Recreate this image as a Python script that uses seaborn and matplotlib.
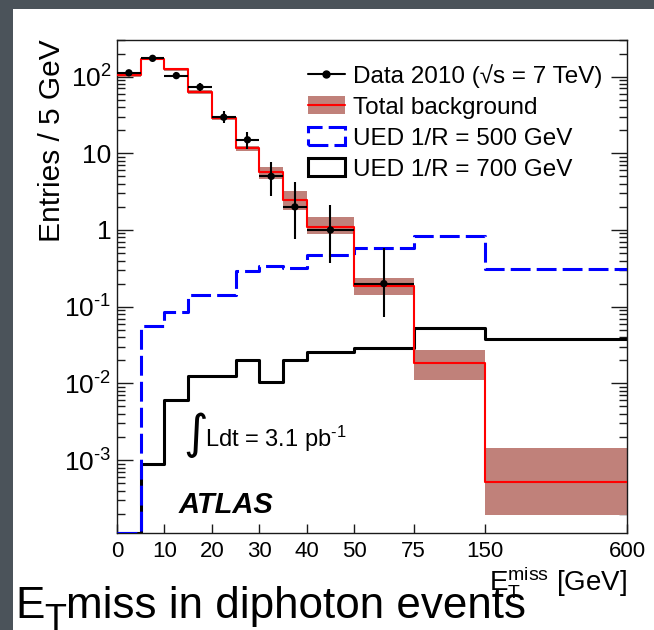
import numpy as np
import pandas as pd
import matplotlib
matplotlib.use("Agg")
import matplotlib.pyplot as plt
import seaborn as sns
from matplotlib.patches import Patch, Rectangle
from matplotlib.lines import Line2D
from matplotlib.ticker import LogLocator, NullFormatter, NullLocator

# ---- data -------------------------------------------------------------
# bin edges of the missing-ET spectrum (GeV)
edges = [0, 5, 10, 15, 20, 25, 30, 35, 40, 50, 75, 150, 600]

# total background, entries / 5 GeV, with its uncertainty band
bkg = [104, 172, 124, 63, 29.1, 11.6, 5.65, 2.46, 1.10, 0.188, 0.0183, 5.2e-4]
bkg_lo = [99, 164, 118, 60, 27.5, 10.7, 4.62, 1.82, 0.887, 0.142, 0.0111, 1.92e-4]
bkg_hi = [109, 180, 130, 66, 30.8, 12.6, 6.69, 3.25, 1.49, 0.234, 0.0272, 1.43e-3]

# UED signal expectations
ued500 = [0, 0.0565, 0.0845, 0.142, 0.142, 0.29, 0.335, 0.315, 0.472, 0.577, 0.843, 0.307]
ued700 = [0, 8.9e-4, 6.1e-3, 0.0126, 0.0126, 0.0202, 0.0105, 0.0202, 0.0259, 0.0292, 0.0532, 0.0376]

# data 2010 (first ten bins)
data = [112, 173, 103, 73, 29.5, 15, 5, 2, 1.0, 0.2]
data_err_lo = [10.6, 13.2, 10.1, 8.5, 5.0, 3.5, 2.23, 1.24, 0.625, 0.126]
data_err_hi = [10.6, 13.2, 10.1, 8.5, 6.0, 4.1, 2.77, 2.26, 1.12, 0.377]

x_ticks = [0, 10, 20, 30, 40, 50, 75, 150, 600]
y_ticks = [1e-3, 1e-2, 1e-1, 1, 10, 100]
y_tick_labels = [r"$10^{\text{-}3}$", r"$10^{\text{-}2}$", r"$10^{\text{-}1}$",
                 "1", "10", r"$10^{2}$"]

# ---- style ------------------------------------------------------------
sns.set_theme(style="ticks")
plt.rcParams["font.family"] = ["Liberation Sans", "DejaVu Sans"]
plt.rcParams["mathtext.fontset"] = "custom"
plt.rcParams["mathtext.rm"] = "Liberation Sans"
plt.rcParams["mathtext.it"] = "Liberation Sans:italic"
plt.rcParams["mathtext.bf"] = "Liberation Sans:bold"
plt.rcParams["mathtext.sf"] = "Liberation Sans"
plt.rcParams["text.color"] = "black"
plt.rcParams["axes.labelcolor"] = "black"
plt.rcParams["xtick.color"] = "black"
plt.rcParams["ytick.color"] = "black"

BAND = "#c0817a"
FRAME = "#1a1a1a"
YMIN, YMAX = 1.12e-4, 300

# piecewise-linear x axis: 0-50 GeV linear, wider bins compressed
knots_x = [0, 50, 75, 150, 600]
knots_u = [0, 50, 62.5, 77.5, 107.5]


def fwd(x):
    return np.interp(x, knots_x, knots_u)


def inv(u):
    return np.interp(u, knots_u, knots_x)


W, H = 654, 630
fig = plt.figure(figsize=(W / 100, H / 100), dpi=100)
fig.patch.set_facecolor("white")
ax = fig.add_axes([117 / W, 97 / H, 510 / W, 493 / H])

e = np.asarray(edges, float)
centers = 0.5 * (e[:-1] + e[1:])
hist = pd.DataFrame({
    "met": centers,
    "bkg": bkg,
    "ued500": np.clip(ued500, YMIN, None),
    "ued700": np.clip(ued700, YMIN, None),
})

# background uncertainty band
ax.stairs(bkg_hi, e, baseline=bkg_lo, fill=True, color=BAND, lw=0, zorder=1)

# signal histograms
sns.histplot(data=hist, x="met", weights="ued700", bins=edges, element="step",
             fill=False, color="black", linewidth=2.2, ax=ax, zorder=2)
sns.histplot(data=hist, x="met", weights="ued500", bins=edges, element="step",
             fill=False, color="#0000ff", linewidth=2.2, linestyle=(0, (6.5, 2.0)),
             ax=ax, zorder=3)
# total background
sns.histplot(data=hist, x="met", weights="bkg", bins=edges, element="step",
             fill=False, color="#ff0000", linewidth=1.5, ax=ax, zorder=4)

# data points
nd = len(data)
dx = centers[:nd]
ax.errorbar(dx, data, xerr=[dx - e[:nd], e[1:nd + 1] - dx],
            yerr=[data_err_lo, data_err_hi], fmt="none", ecolor="black",
            elinewidth=1.5, capsize=0, zorder=5)
sns.scatterplot(x=dx, y=data, color="black", s=28, edgecolor="none", ax=ax,
                zorder=6, legend=False)

# ---- axes -------------------------------------------------------------
ax.set_xscale("function", functions=(fwd, inv))
ax.set_yscale("log")
ax.set_xlim(0, 600)
ax.set_ylim(YMIN, YMAX)

ax.set_xticks(x_ticks)
ax.set_xticklabels([str(t) for t in x_ticks])
ax.xaxis.set_minor_locator(NullLocator())
ax.set_yticks(y_ticks)
ax.set_yticklabels(y_tick_labels)
ax.yaxis.set_minor_locator(LogLocator(base=10, subs=np.arange(2, 10), numticks=100))
ax.yaxis.set_minor_formatter(NullFormatter())

ax.tick_params(axis="x", which="major", direction="in", length=6.5, width=1,
               color=FRAME, bottom=True, top=False, labelsize=16, pad=6,
               labelcolor="black")
ax.tick_params(axis="y", which="major", direction="in", length=11.5, width=1,
               color=FRAME, left=True, right=True, labelsize=19, pad=4,
               labelcolor="black")
ax.tick_params(axis="y", which="minor", direction="in", length=5.8, width=1,
               color=FRAME, left=True, right=True)
for sp in ax.spines.values():
    sp.set_visible(True)
    sp.set_color(FRAME)
    sp.set_linewidth(1)
ax.set_xlabel("")
ax.set_ylabel("")
ax.set_facecolor("white")

# ---- legend -----------------------------------------------------------
handles = [
    Line2D([], [], color="black", lw=1.5, marker="o", markersize=5),
    (Patch(facecolor=BAND, edgecolor="none"), Line2D([], [], color="#ff0000", lw=1.5)),
    Patch(facecolor="none", edgecolor="#0000ff", lw=2.2, linestyle=(0, (6.5, 2.0))),
    Patch(facecolor="none", edgecolor="black", lw=2.2),
]
labels = ["Data 2010 (\u221as = 7 TeV)", "Total background",
          "UED 1/R = 500 GeV", "UED 1/R = 700 GeV"]
ax.legend(handles, labels, loc="upper left", bbox_to_anchor=(0.3745, 0.952),
          frameon=False, fontsize=17.5, handlelength=1.52, handleheight=0.8,
          handletextpad=0.33, labelspacing=0.34, borderpad=0, borderaxespad=0)

# ---- annotations ------------------------------------------------------
ax.text(0.1215, 0.0406, "ATLAS", transform=ax.transAxes, fontsize=21,
        fontweight="bold", fontstyle="italic", va="baseline", ha="left")
ax.text(0.154, 0.199, "\u222b", transform=ax.transAxes, fontsize=34,
        family="DejaVu Sans", va="center", ha="center")
ax.text(0.1725, 0.1744, r"Ldt = 3.1 pb$^{\text{-}1}$", transform=ax.transAxes,
        fontsize=17, va="baseline", ha="left")

fig.text(627 / W, 40 / H, r"$\mathrm{E}_{\mathrm{T}}^{\mathrm{miss}}$ [GeV]",
         ha="right", va="baseline", fontsize=20)
fig.text(52 / W, 1 - 39 / H, "Entries / 5 GeV", rotation=90, ha="center",
         va="top", fontsize=21.5)

# slide title below the plot: E, lowered T, then the rest
renderer = fig.canvas.get_renderer()
base_y = 12 / H
t_e = fig.text(15 / W, base_y, "E", fontsize=31.7, va="baseline", ha="left")
bb = t_e.get_window_extent(renderer)
t_t = fig.text(bb.x1 / W, base_y - 12 / H, "T", fontsize=26, va="baseline", ha="left")
bb = t_t.get_window_extent(renderer)
fig.text(bb.x1 / W, base_y, "miss in diphoton events", fontsize=31.7,
         va="baseline", ha="left")

# dark frame of the slide
fig.add_artist(Rectangle((0, 0), 13 / W, 1, transform=fig.transFigure,
                         color="#4b535a", lw=0, zorder=10))
fig.add_artist(Rectangle((0, 1 - 9 / H), 1, 9 / H, transform=fig.transFigure,
                         color="#4b535a", lw=0, zorder=10))

fig.savefig("out.png", dpi=100)
